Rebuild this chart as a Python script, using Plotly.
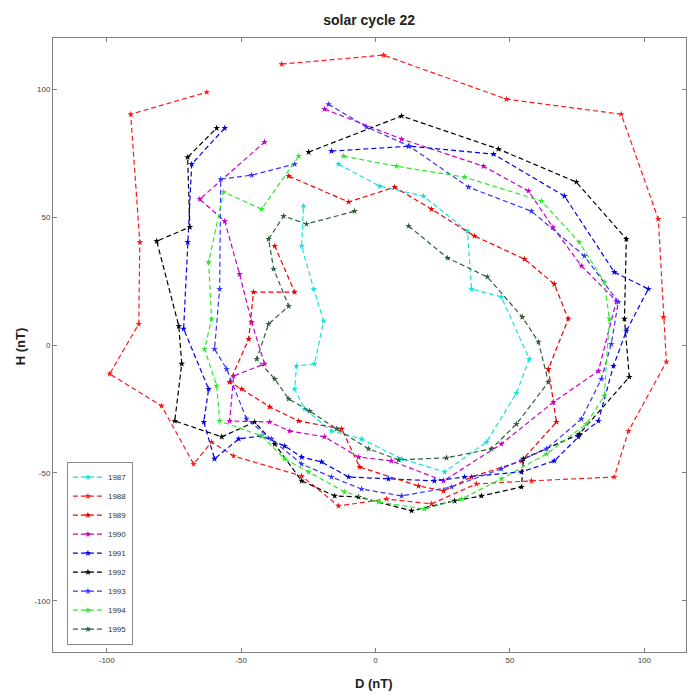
import plotly.graph_objects as go

years = ["1987", "1988", "1989", "1990", "1991", "1992", "1993", "1994", "1995"]
colors = ["#19e0e0", "#ff1a1a", "#f00000", "#c800c8", "#0000f0", "#000000", "#3636ff", "#30e830", "#2f5f3f"]

d_1987 = [-13.8, 1.5, 17.8, 34.2, 35.7, 46.8, 57.2, 52.4, 41.3, 25.7, 9.7, -5.2, -16.4, -26.4, -30.1, -29.4, -22.7, -19.3, -23.0, -27.5, -26.8]
h_1987 = [70.7, 62.1, 58.2, 44.5, 21.9, 18.8, -5.5, -18.8, -37.9, -49.6, -44.5, -36.7, -33.6, -25.0, -17.2, -8.2, -7.4, 9.4, 21.9, 38.7, 54.3]

d_1988 = [-34.9, 3.0, 48.7, 91.4, 105.2, 107.1, 108.2, 94.1, 88.8, 58.0, 37.5, 20.8, 4.1, -13.8, -27.5, -52.8, -61.0, -67.7, -79.6, -98.9, -88.1, -87.7, -91.1, -62.8]
h_1988 = [109.8, 113.3, 96.1, 90.2, 49.2, 10.9, -6.6, -33.6, -51.6, -53.1, -54.3, -62.1, -60.2, -62.9, -51.2, -43.4, -37.9, -46.5, -23.8, -11.3, 8.2, 40.2, 90.2, 98.8]

d_1989 = [-32.3, -10.0, 7.1, 20.8, 36.8, 55.4, 66.5, 71.7, 64.3, 67.3, 54.3, 35.7, 25.3, 16.0, -5.9, -12.6, -28.6, -39.4, -49.8, -54.3, -47.2, -45.4, -30.1, -37.5]
h_1989 = [66.0, 55.9, 61.7, 53.1, 42.6, 33.6, 23.8, 10.2, -9.4, -30.1, -45.3, -51.6, -57.0, -55.1, -47.7, -32.8, -29.7, -24.2, -17.2, -14.5, 2.3, 20.7, 20.7, 38.7]

d_1990 = [-19.0, 9.7, 40.1, 56.9, 66.0, 76.6, 89.6, 82.9, 66.2, 46.8, 25.3, 5.9, -6.3, -19.0, -32.0, -39.4, -54.3, -52.8, -41.3, -46.1, -50.6, -56.1, -65.4, -41.3]
h_1990 = [92.2, 80.5, 69.9, 60.2, 46.0, 30.9, 17.2, -10.2, -22.3, -38.7, -53.1, -45.3, -43.8, -35.9, -33.6, -30.1, -29.7, -12.1, -7.4, 9.0, 27.7, 48.4, 57.0, 79.3]

d_1991 = [-16.4, 12.3, 43.9, 70.3, 88.8, 101.5, 93.3, 88.5, 82.9, 75.5, 66.5, 54.3, 33.1, 21.9, 4.8, -10.0, -20.1, -27.5, -33.8, -42.4, -50.9, -59.9, -63.9, -62.1, -71.4, -69.9, -68.4, -56.1]
h_1991 = [75.8, 77.7, 74.6, 58.2, 28.5, 21.9, 5.5, -8.2, -29.7, -35.9, -45.3, -49.6, -51.6, -53.1, -52.3, -51.6, -45.7, -43.8, -39.5, -35.5, -36.7, -44.5, -30.1, -17.2, 6.3, 40.2, 70.7, 84.8]

d_1992 = [-24.9, 9.7, 45.7, 74.7, 93.3, 92.6, 94.4, 75.8, 55.0, 54.3, 39.4, 29.4, 13.4, -6.3, -15.2, -27.5, -37.5, -45.0, -57.2, -74.7, -72.1, -73.2, -81.4, -69.1, -69.9, -59.1]
h_1992 = [75.4, 89.5, 76.6, 63.7, 41.4, 10.2, -12.5, -34.8, -44.5, -55.5, -59.0, -60.9, -64.8, -59.4, -59.0, -53.1, -38.7, -30.1, -35.9, -29.7, -7.4, 7.4, 40.6, 46.1, 73.4, 84.8]

d_1993 = [-17.5, -3.3, 12.6, 34.6, 58.0, 77.7, 90.3, 87.7, 84.0, 76.6, 63.6, 46.8, 28.3, 9.7, -5.2, -16.4, -27.5, -38.7, -48.0, -55.4, -59.9, -58.0, -57.6, -46.1, -30.1]
h_1993 = [94.1, 85.2, 77.7, 61.7, 52.3, 34.8, 16.8, 0.4, -13.3, -28.9, -40.6, -48.4, -55.5, -59.0, -56.3, -51.6, -46.5, -36.7, -28.9, -9.4, -1.6, 21.9, 64.8, 66.4, 70.7]

d_1994 = [-11.9, 7.8, 33.1, 61.7, 75.8, 85.1, 87.0, 85.1, 78.4, 63.6, 46.8, 32.0, 18.2, 1.1, -11.5, -24.9, -33.8, -42.4, -58.0, -59.1, -63.6, -61.0, -62.1, -56.5, -42.4, -28.6]
h_1994 = [73.8, 69.9, 65.6, 56.3, 40.2, 24.6, 10.2, -19.9, -30.9, -42.6, -52.3, -60.2, -64.1, -61.3, -57.4, -49.6, -44.5, -35.5, -29.7, -16.0, -1.6, 10.2, 32.4, 59.8, 53.1, 73.8]

d_1995 = [12.3, 26.8, 41.6, 54.6, 60.6, 64.3, 52.4, 43.1, 26.4, 8.6, -2.6, -14.5, -24.5, -32.3, -37.5, -44.2, -39.8, -32.3, -37.9, -39.8, -34.2, -25.7, -7.8]
h_1995 = [46.5, 34.0, 26.6, 10.9, 1.2, -14.5, -30.9, -40.6, -44.1, -44.9, -40.6, -32.8, -25.8, -21.1, -13.3, -5.5, 8.2, 15.2, 29.7, 41.4, 50.4, 47.3, 52.3]

d_all = [d_1987, d_1988, d_1989, d_1990, d_1991, d_1992, d_1993, d_1994, d_1995]
h_all = [h_1987, h_1988, h_1989, h_1990, h_1991, h_1992, h_1993, h_1994, h_1995]

tick_vals = [-100, -50, 0, 50, 100]
tick_text = ["-100", "-50", "0", "50", "100"]

fig = go.Figure()
for yr, col, dx, hy in zip(years, colors, d_all, h_all):
    fig.add_trace(go.Scatter(
        x=dx, y=hy, mode="lines+markers", name=yr,
        line=dict(color=col, width=1.2, dash="5px,3px"),
        marker=dict(symbol="star", size=5, color=col),
    ))

axis_common = dict(
    showgrid=False, zeroline=False, showline=True, linecolor="#7f7f7f", linewidth=1,
    mirror="ticks", ticks="inside", ticklen=4, tickcolor="#7f7f7f",
    tickvals=tick_vals, ticktext=tick_text,
    tickfont=dict(family="Liberation Sans, Arial", size=8, color="#444444"),
)

fig.update_layout(
    width=690, height=698,
    margin=dict(l=53, r=4, t=38, b=46),
    paper_bgcolor="white", plot_bgcolor="white",
    title=dict(text="<b>solar cycle 22</b>", x=0.535, xanchor="center", y=1 - 20 / 698, yanchor="middle",
               yref="container", font=dict(family="Liberation Sans, Arial", size=14, color="#222222")),
    xaxis=dict(range=[-120, 115.5], **axis_common),
    yaxis=dict(range=[-120, 120], **axis_common),
    showlegend=True,
    legend=dict(x=0.022, y=0.012, xanchor="left", yanchor="bottom",
                bgcolor="white", bordercolor="#8a8a8a", borderwidth=1,
                font=dict(family="Liberation Sans, Arial", size=8, color="#333333"),
                itemwidth=30, tracegroupgap=0),
    annotations=[
        dict(text="<b>D (nT)</b>", xref="paper", yref="paper", x=0.507, y=-0.052,
             showarrow=False, xanchor="center", yanchor="middle",
             font=dict(family="Liberation Sans, Arial", size=13, color="#222222")),
        dict(text="<b>H (nT)</b>", xref="paper", yref="paper", x=-0.052, y=0.498,
             showarrow=False, xanchor="center", yanchor="middle", textangle=-90,
             font=dict(family="Liberation Sans, Arial", size=13, color="#222222")),
    ],
)

fig.write_html("out.html")
